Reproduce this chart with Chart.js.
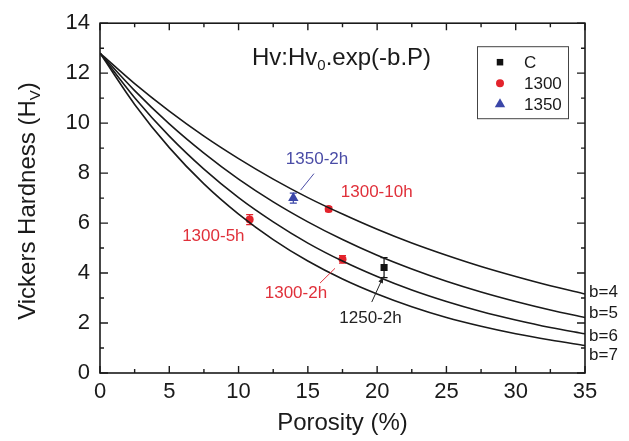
<!DOCTYPE html>
<html>
<head>
<meta charset="utf-8">
<script src="https://cdn.jsdelivr.net/npm/chart.js@4.4.1/dist/chart.umd.min.js"></script>
<style>
  html, body { margin: 0; padding: 0; background: #fff; }
</style>
</head>
<body>
<canvas id="hvChart" width="629" height="441"></canvas>
<script>
// grille de porosité pour les courbes Hv = Hv0.exp(-b.P)
const porosity = [0, 2.5, 5, 7.5, 10, 12.5, 15, 17.5, 20, 22.5, 25, 27.5, 30, 32.5, 35];
const curveB4 = [12.8, 11.58, 10.48, 9.48, 8.58, 7.76, 7.02, 6.36, 5.75, 5.20, 4.71, 4.26, 3.86, 3.49, 3.16];
const curveB5 = [12.8, 11.30, 9.97, 8.80, 7.76, 6.85, 6.05, 5.34, 4.71, 4.16, 3.67, 3.24, 2.86, 2.52, 2.22];
const curveB6 = [12.8, 11.02, 9.48, 8.16, 7.02, 6.05, 5.20, 4.48, 3.86, 3.32, 2.86, 2.46, 2.12, 1.82, 1.57];
const curveB7 = [12.8, 10.75, 9.02, 7.57, 6.36, 5.34, 4.48, 3.76, 3.16, 2.65, 2.22, 1.87, 1.57, 1.32, 1.10];
const curveLabels = ['b=4', 'b=5', 'b=6', 'b=7'];
const curveLabelY = [3.22, 2.38, 1.48, 0.72];

// points mesurés
const cPorosity = [20.5];
const cHardness = [4.22];
const cError = [0.4];
const p1300Porosity = [10.8, 16.5, 17.5];
const p1300Hardness = [6.14, 6.56, 4.55];
const p1300Error = [0.2, 0.1, 0.15];
const p1350Porosity = [13.95];
const p1350Hardness = [7.0];
const p1350Error = [0.2];

const legendLabels = ['C', '1300', '1350'];

const RED = '#e3232c';
const BLUE = '#3a46a8';
const FONT = '"Liberation Sans", Arial, sans-serif';

function toPoints(xs, ys) {
    return xs.map((x, i) => ({ x: x, y: ys[i] }));
}

function curveDataset(values) {
    return {
        type: 'line',
        data: toPoints(porosity, values),
        borderColor: '#1a1a1a',
        borderWidth: 1.6,
        pointRadius: 0,
        cubicInterpolationMode: 'monotone',
        fill: false
    };
}

// annotations (en unités de données)
const notes = [
    { text: '1350-2h', x: 15.66, y: 8.55, color: '#4a4ca6', line: [14.48, 7.32, 15.44, 7.98] },
    { text: '1300-10h', x: 19.97, y: 7.22, color: '#e0303a' },
    { text: '1300-5h', x: 8.18, y: 5.48, color: '#e0303a' },
    { text: '1300-2h', x: 14.14, y: 3.19, color: '#e0303a', line: [15.88, 3.60, 16.96, 4.19] },
    { text: '1250-2h', x: 19.52, y: 2.17, color: '#222', line: [19.61, 2.84, 20.45, 3.86], arrow: true }
];

const errorBars = {
    id: 'errorBars',
    beforeDatasetsDraw(chart) {
        const ctx = chart.ctx, xs = chart.scales.x, ys = chart.scales.y;
        const groups = [
            [cPorosity, cHardness, cError, '#111'],
            [p1300Porosity, p1300Hardness, p1300Error, RED],
            [p1350Porosity, p1350Hardness, p1350Error, BLUE]
        ];
        ctx.save();
        ctx.lineWidth = 1.2;
        groups.forEach(g => {
            ctx.strokeStyle = g[3];
            g[0].forEach((p, i) => {
                const px = xs.getPixelForValue(p);
                const top = ys.getPixelForValue(g[1][i] + g[2][i]);
                const bot = ys.getPixelForValue(g[1][i] - g[2][i]);
                ctx.beginPath();
                ctx.moveTo(px, top); ctx.lineTo(px, bot);
                ctx.moveTo(px - 3.5, top); ctx.lineTo(px + 3.5, top);
                ctx.moveTo(px - 3.5, bot); ctx.lineTo(px + 3.5, bot);
                ctx.stroke();
            });
        });
        ctx.restore();
    }
};

const decorations = {
    id: 'decorations',
    afterDraw(chart) {
        const ctx = chart.ctx, xs = chart.scales.x, ys = chart.scales.y;
        const a = chart.chartArea;
        ctx.save();

        // cadre
        ctx.strokeStyle = '#1a1a1a';
        ctx.lineWidth = 1.6;
        ctx.strokeRect(a.left, a.top, a.right - a.left, a.bottom - a.top);

        // graduations vers l'intérieur, sur les quatre côtés
        ctx.lineWidth = 1.4;
        ctx.beginPath();
        for (let v = 0; v <= 35; v += 2.5) {
            const px = xs.getPixelForValue(v);
            const len = (v % 5 === 0) ? 7 : 4;
            ctx.moveTo(px, a.bottom); ctx.lineTo(px, a.bottom - len);
            ctx.moveTo(px, a.top); ctx.lineTo(px, a.top + len);
        }
        for (let v = 0; v <= 14; v += 1) {
            const py = ys.getPixelForValue(v);
            const len = (v % 2 === 0) ? 8 : 4;
            ctx.moveTo(a.left, py); ctx.lineTo(a.left + len, py);
            ctx.moveTo(a.right, py); ctx.lineTo(a.right - len, py);
        }
        ctx.stroke();

        // titres des axes
        ctx.fillStyle = '#1a1a1a';
        ctx.font = '24px ' + FONT;
        ctx.textAlign = 'center';
        ctx.textBaseline = 'middle';
        ctx.fillText('Porosity (%)', (a.left + a.right) / 2, 423);

        ctx.save();
        ctx.translate(27, 201);
        ctx.rotate(-Math.PI / 2);
        const main = 'Vickers Hardness (H';
        ctx.font = '24px ' + FONT;
        const w1 = ctx.measureText(main).width;
        ctx.font = '15px ' + FONT;
        const w2 = ctx.measureText('V').width;
        ctx.font = '24px ' + FONT;
        const w3 = ctx.measureText(')').width;
        let sx = -(w1 + w2 + w3) / 2;
        ctx.textAlign = 'left';
        ctx.textBaseline = 'alphabetic';
        ctx.fillText(main, sx, 8);
        ctx.font = '15px ' + FONT;
        ctx.fillText('V', sx + w1, 13);
        ctx.font = '24px ' + FONT;
        ctx.fillText(')', sx + w1 + w2, 8);
        ctx.restore();

        // formule
        ctx.textAlign = 'left';
        ctx.textBaseline = 'alphabetic';
        let fx = xs.getPixelForValue(10.97);
        const fy = ys.getPixelForValue(12.66) + 8;
        ctx.font = '24px ' + FONT;
        ctx.fillText('Hv:Hv', fx, fy);
        fx += ctx.measureText('Hv:Hv').width;
        ctx.font = '15px ' + FONT;
        ctx.fillText('0', fx, fy + 5);
        fx += ctx.measureText('0').width;
        ctx.font = '24px ' + FONT;
        ctx.fillText('.exp(-b.P)', fx, fy);

        // étiquettes des courbes
        ctx.font = '17px ' + FONT;
        ctx.textBaseline = 'middle';
        curveLabels.forEach((t, i) => {
            ctx.fillText(t, a.right + 4, ys.getPixelForValue(curveLabelY[i]));
        });

        // annotations des échantillons
        ctx.font = '17px ' + FONT;
        ctx.textAlign = 'center';
        notes.forEach(n => {
            ctx.fillStyle = n.color;
            ctx.fillText(n.text, xs.getPixelForValue(n.x), ys.getPixelForValue(n.y));
            if (n.line) {
                const x1 = xs.getPixelForValue(n.line[0]), y1 = ys.getPixelForValue(n.line[1]);
                const x2 = xs.getPixelForValue(n.line[2]), y2 = ys.getPixelForValue(n.line[3]);
                ctx.strokeStyle = n.color;
                ctx.lineWidth = 1;
                ctx.beginPath();
                ctx.moveTo(x1, y1); ctx.lineTo(x2, y2);
                ctx.stroke();
                if (n.arrow) {
                    const ang = Math.atan2(y2 - y1, x2 - x1);
                    ctx.beginPath();
                    ctx.moveTo(x2, y2);
                    ctx.lineTo(x2 - 7 * Math.cos(ang - 0.35), y2 - 7 * Math.sin(ang - 0.35));
                    ctx.lineTo(x2 - 7 * Math.cos(ang + 0.35), y2 - 7 * Math.sin(ang + 0.35));
                    ctx.closePath();
                    ctx.fillStyle = n.color;
                    ctx.fill();
                }
            }
        });

        // légende
        const lx = a.right - 108, ly = a.top + 23;
        ctx.strokeStyle = '#444';
        ctx.lineWidth = 1;
        ctx.strokeRect(lx + 0.5, ly + 0.5, 91, 72);
        const styles = [['rect', '#111', 4.6], ['circle', RED, 4], ['triangle', BLUE, 6]];
        ctx.font = '17px ' + FONT;
        ctx.textAlign = 'left';
        ctx.textBaseline = 'middle';
        legendLabels.forEach((t, i) => {
            const yy = ly + 16 + i * 21;
            ctx.fillStyle = styles[i][1];
            ctx.strokeStyle = styles[i][1];
            Chart.helpers.drawPoint(ctx, { pointStyle: styles[i][0], radius: styles[i][2], rotation: 0, borderWidth: 0 }, lx + 23, yy);
            ctx.fillStyle = '#1a1a1a';
            ctx.fillText(t, lx + 47, yy + 1);
        });

        ctx.restore();
    }
};

const ctx = document.getElementById('hvChart').getContext('2d');
new Chart(ctx, {
    type: 'scatter',
    data: {
        datasets: [
            curveDataset(curveB4),
            curveDataset(curveB5),
            curveDataset(curveB6),
            curveDataset(curveB7),
            {
                label: legendLabels[0],
                data: toPoints(cPorosity, cHardness),
                pointStyle: 'rect', pointRadius: 5, borderWidth: 0,
                backgroundColor: '#111'
            },
            {
                label: legendLabels[1],
                data: toPoints(p1300Porosity, p1300Hardness),
                pointStyle: 'circle', pointRadius: 4, borderWidth: 0,
                backgroundColor: RED
            },
            {
                label: legendLabels[2],
                data: toPoints(p1350Porosity, p1350Hardness),
                pointStyle: 'triangle', pointRadius: 6, borderWidth: 0,
                backgroundColor: BLUE
            }
        ]
    },
    options: {
        responsive: false,
        animation: false,
        devicePixelRatio: 1,
        layout: { padding: { top: 18, right: 44, left: 0, bottom: 0 } },
        plugins: { legend: { display: false }, tooltip: { enabled: false } },
        scales: {
            x: {
                type: 'linear', min: 0, max: 35,
                ticks: { stepSize: 5, padding: 6, color: '#1a1a1a', font: { family: FONT, size: 22 } },
                grid: { display: false, drawTicks: false },
                border: { display: false },
                afterFit: s => { s.height = 68; }
            },
            y: {
                type: 'linear', min: 0, max: 14,
                ticks: { stepSize: 2, padding: 10, color: '#1a1a1a', font: { family: FONT, size: 22 } },
                grid: { display: false, drawTicks: false },
                border: { display: false },
                afterFit: s => { s.height = undefined; s.width = 100; }
            }
        }
    },
    plugins: [errorBars, decorations]
});
</script>
</body>
</html>
